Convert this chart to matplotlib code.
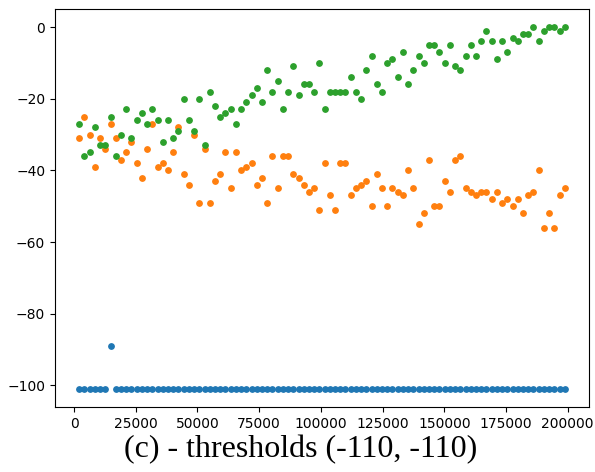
import numpy as np
import matplotlib
matplotlib.use("Agg")
import matplotlib.pyplot as plt

# sample positions (94 samples, ~2.1k apart)
step = 2115
n_samples = 94

blue_vals = [-101] * n_samples
blue_vals[6] = -89

orange_vals = [
    -31, -25, -30, -39, -31, -34, -27, -31, -37, -35,
    -32, -38, -42, -34, -27, -39, -38, -40, -35, -28,
    -41, -44, -30, -49, -34, -49, -43, -41, -35, -45,
    -35, -40, -39, -38, -44, -42, -49, -36, -45, -36,
    -36, -41, -42, -44, -46, -45, -51, -38, -47, -51,
    -38, -38, -47, -45, -44, -43, -50, -41, -45, -50,
    -45, -46, -47, -40, -45, -55, -52, -37, -50, -50,
    -43, -46, -37, -36, -45, -46, -47, -46, -46, -48,
    -46, -49, -48, -50, -48, -52, -47, -46, -40, -56,
    -52, -56, -47, -45,
]

green_vals = [
    -27, -36, -35, -28, -33, -33, -25, -36, -30, -23,
    -31, -26, -24, -27, -23, -26, -32, -26, -31, -29,
    -20, -26, -29, -20, -33, -18, -22, -25, -24, -23,
    -27, -23, -21, -19, -17, -21, -12, -18, -15, -23,
    -18, -11, -19, -16, -16, -18, -10, -23, -18, -18,
    -18, -18, -14, -18, -20, -12, -8, -16, -18, -10,
    -9, -14, -7, -16, -12, -8, -10, -5, -5, -7,
    -10, -5, -11, -12, -8, -5, -8, -4, -1, -4,
    -9, -4, -7, -3, -4, -2, -2, 0, -4, -1,
    0, 0, -1, 0,
]

x = np.arange(1, n_samples + 1) * step

fig = plt.figure(figsize=(5.95, 4.72), dpi=100)
ax = fig.add_axes([55 / 595, 1 - 407 / 472, 534 / 595, 398 / 472])

ax.scatter(x, blue_vals, s=15, color="C0")
ax.scatter(x, orange_vals, s=15, color="C1")
ax.scatter(x, green_vals, s=15, color="C2")

ax.set_xticks([0, 25000, 50000, 75000, 100000, 125000, 150000, 175000, 200000])

fig.text(0.505, 0.047, "(c) - thresholds (-110, -110)", ha="center", va="center",
         fontsize=23, family="Liberation Serif")

fig.savefig("out.png", dpi=100)
